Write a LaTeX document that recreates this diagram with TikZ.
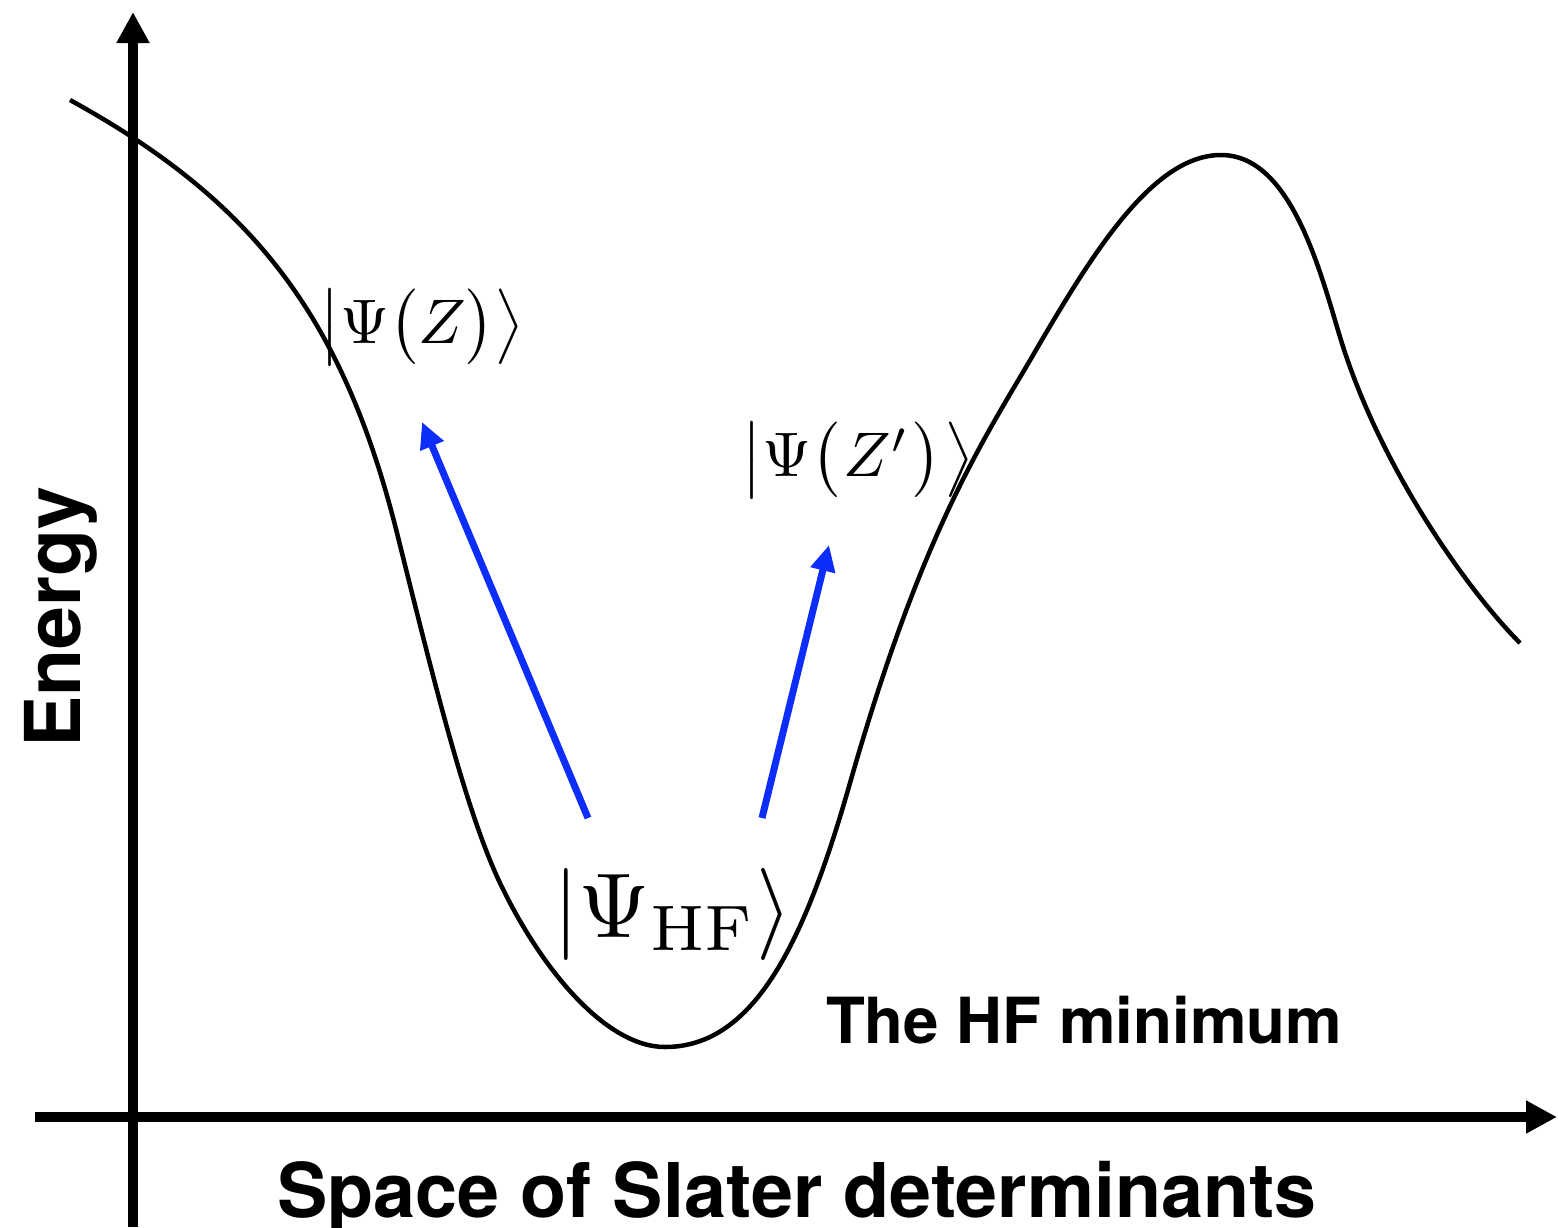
\documentclass[tikz,border=0pt]{standalone}
\usepackage[no-math]{fontspec}
\usepackage{graphicx}
\newfontfamily\hfont{TeX Gyre Heros}
\usetikzlibrary{arrows.meta}
\definecolor{arrblue}{RGB}{12,45,250}
\begin{document}
\begin{tikzpicture}[x=1pt,y=-1pt,
  axisline/.style={line width=10pt,-{Triangle[width=31pt,length=31pt]}},
  curveline/.style={line width=4.5pt},
  jump/.style={draw=arrblue,line width=7pt,-{Triangle[width=24pt,length=26pt]}},
  lab/.style={font=\hfont\bfseries,inner sep=0pt},
  ket/.style={inner sep=0pt,anchor=base west}]
\useasboundingbox (0,0) rectangle (1558,1227);
% axes
\coordinate (yb) at (133,1227);
\coordinate (yt) at (133,12);
\coordinate (xl) at (35,1117);
\coordinate (xr) at (1557,1117);
\draw[axisline] (yb) -- (yt);
\draw[axisline] (xl) -- (xr);
% energy curve
\draw[curveline] (70,100)
  .. controls (250,199) and (342,313) .. (397,533)
  .. controls (432,673) and (465,809.5) .. (500,883)
  .. controls (540,967) and (605,1047) .. (665,1047)
  .. controls (755,1047) and (805,940.5) .. (850,783)
  .. controls (920,538) and (979,447) .. (1029,362)
  .. controls (1089,258.8) and (1151,155) .. (1221,155)
  .. controls (1291,155) and (1320,271) .. (1340,337)
  .. controls (1380,469) and (1470,593) .. (1520,643);
% labels
\node[ket] (kz) at (319,343) {\scalebox{6.3}{$\bigl|\Psi\bigl(Z\bigr)\bigr\rangle$}};
\node[ket] (kzp) at (741,476) {\scalebox{6.3}{$\bigl|\Psi\bigl(\mkern1mu Z'\mkern1mu\bigr)\mkern1mu\bigr\rangle$}};
\node[ket] (khf) at (553,937) {\scalebox{9.2}{$|\Psi_{\mathrm{HF}}\rangle$}};
\node[lab,anchor=base,font=\hfont\bfseries\fontsize{63.6}{70}\selectfont] (minlab) at (1084,1043) {The HF minimum};
\node[lab,anchor=base,font=\hfont\bfseries\fontsize{75.5}{80}\selectfont] (xlab) at (797,1217) {Space of Slater determinants};
\node[lab,anchor=base,rotate=90,font=\hfont\bfseries\fontsize{77}{80}\selectfont] (ylab) at (80,617) {Energy};
% excitation arrows
\coordinate (a1s) at (588,818);
\coordinate (a1e) at (422,422);
\coordinate (a2s) at (762,818);
\coordinate (a2e) at (829,545);
\draw[jump] (a1s) -- (a1e);
\draw[jump] (a2s) -- (a2e);
\end{tikzpicture}
\end{document}
